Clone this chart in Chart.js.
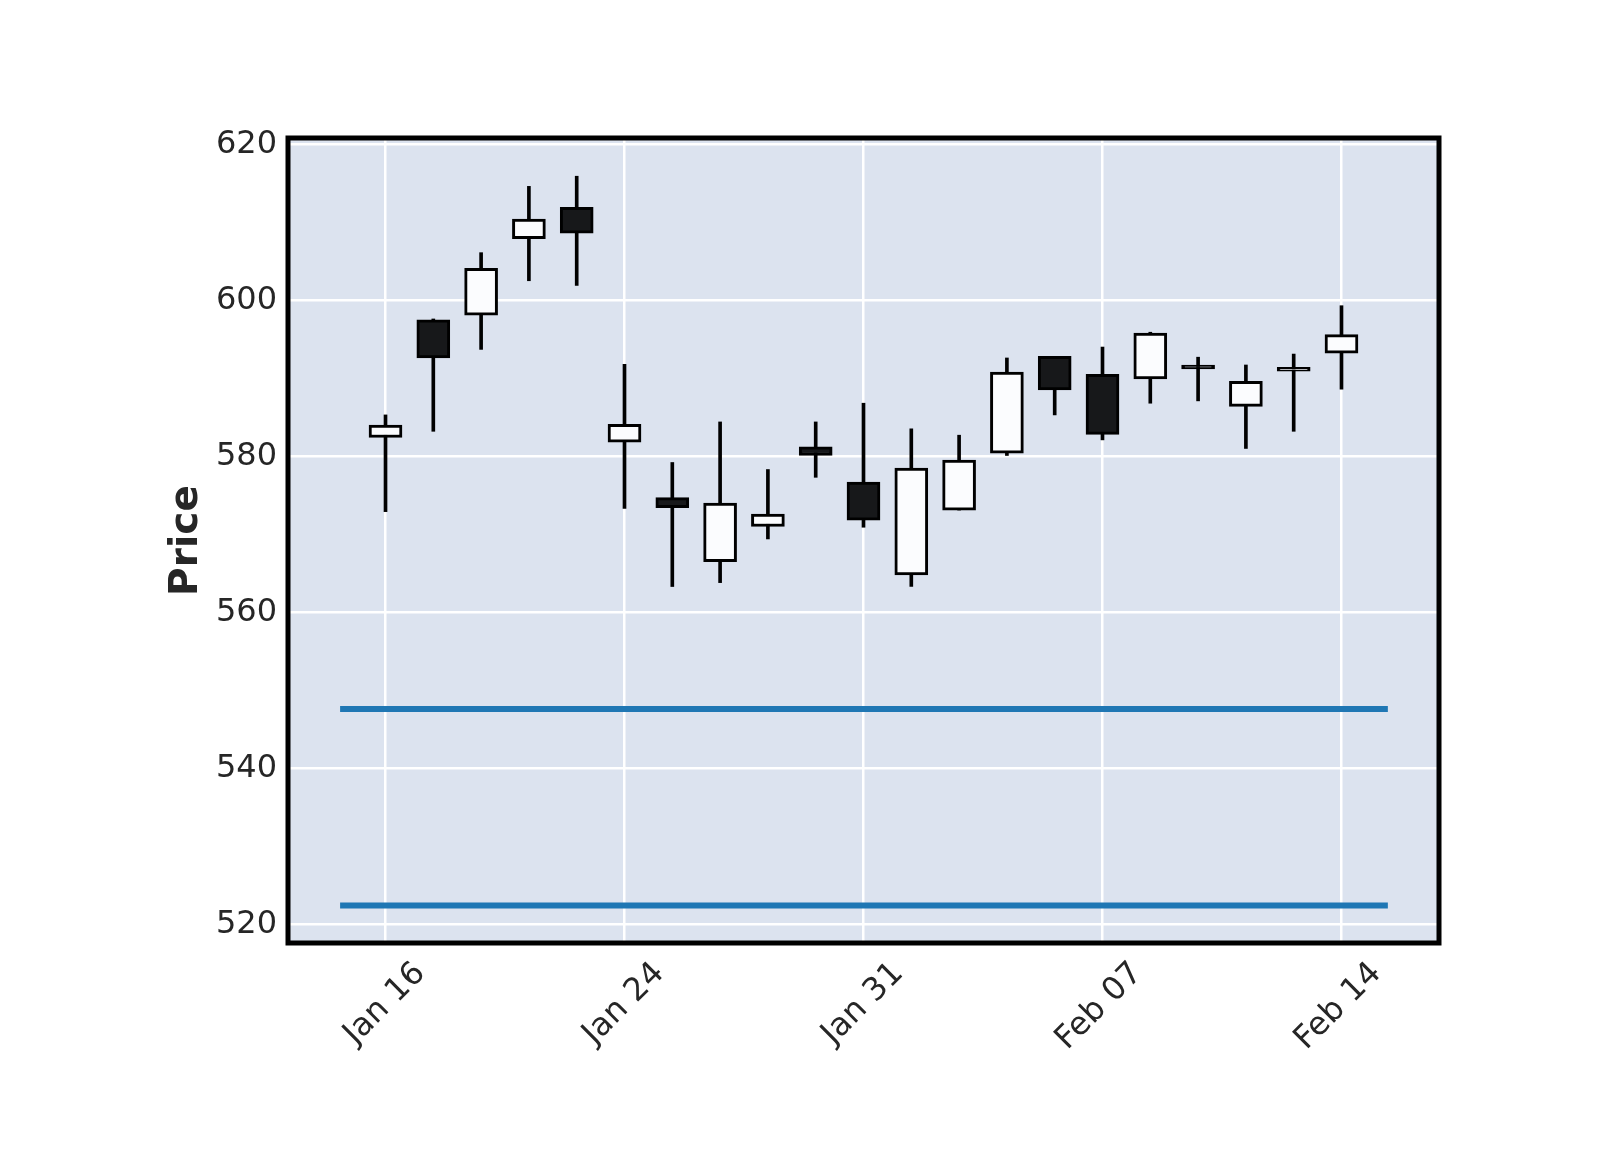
<!DOCTYPE html>
<html lang="en">
<head>
    <meta charset="UTF-8">
    <title>Price</title>
    <script src="https://cdn.jsdelivr.net/npm/chart.js"></script>
    <style>
        body { margin: 0; background: #ffffff; }
        canvas { display: block; }
    </style>
</head>
<body>
    <canvas id="priceChart" width="1600" height="1150"></canvas>
    <script>
        // candle data, one entry per trading day
        const dates = ['Jan 16', 'Jan 17', 'Jan 21', 'Jan 22', 'Jan 23', 'Jan 24', 'Jan 27', 'Jan 28', 'Jan 29', 'Jan 30',
                       'Jan 31', 'Feb 03', 'Feb 04', 'Feb 05', 'Feb 06', 'Feb 07', 'Feb 10', 'Feb 11', 'Feb 12', 'Feb 13', 'Feb 14'];
        const opens  = [582.4, 597.5, 598.1, 607.9, 611.9, 581.8, 574.7, 566.5, 571.0, 581.2,
                        576.7, 564.8, 573.1, 580.4, 592.8, 590.5, 589.9, 591.7, 586.4, 590.9, 593.2];
        const highs  = [585.3, 597.6, 606.1, 614.6, 615.9, 591.8, 579.2, 584.4, 578.3, 584.4,
                        586.8, 583.5, 582.7, 592.6, 592.8, 594.0, 595.9, 592.7, 591.7, 593.1, 599.3];
        const lows   = [572.9, 583.2, 593.7, 602.5, 601.9, 573.3, 563.3, 563.8, 569.4, 577.3,
                        570.9, 563.3, 573.1, 580.1, 585.3, 582.1, 586.8, 587.1, 581.0, 583.2, 588.6];
        const closes = [584.0, 592.6, 604.1, 610.4, 608.6, 584.1, 573.4, 574.0, 572.6, 580.1,
                        571.8, 578.5, 579.5, 590.8, 588.5, 582.8, 595.8, 591.2, 589.6, 591.4, 595.6];
        const hlineValues = [547.6, 522.4];
        const hlineSpan = [-0.95, 20.97];
        const xTickIndexes = [0, 5, 10, 15, 20];
        const yTickValues = [520, 540, 560, 580, 600, 620];

        const upColor = '#fbfcfe';
        const downColor = '#17181a';
        const textColor = '#262626';

        const bodies = opens.map((o, i) => ({ x: i, y: [o, closes[i]] }));
        const wicks = highs.map((h, i) => ({ x: i, y: [lows[i], h] }));
        const bodyColors = opens.map((o, i) => closes[i] >= o ? upColor : downColor);

        const hlineSets = hlineValues.map(v => ({
            type: 'line',
            data: hlineSpan.map(x => ({ x: x, y: v })),
            borderColor: '#1f77b4',
            borderWidth: 6,
            borderCapStyle: 'butt',
            pointRadius: 0,
            order: 0
        }));

        const frame = {
            id: 'frame',
            beforeDraw(chart) {
                const a = chart.chartArea;
                const ctx = chart.ctx;
                ctx.save();
                ctx.fillStyle = '#dce3ef';
                ctx.fillRect(a.left, a.top, a.right - a.left, a.bottom - a.top);
                ctx.restore();
            },
            afterDraw(chart) {
                const a = chart.chartArea;
                const ctx = chart.ctx;
                ctx.save();
                ctx.strokeStyle = '#000000';
                ctx.lineWidth = 5;
                ctx.strokeRect(a.left, a.top, a.right - a.left, a.bottom - a.top);
                ctx.restore();
            }
        };

        const ctx = document.getElementById('priceChart').getContext('2d');
        new Chart(ctx, {
            type: 'bar',
            data: {
                datasets: [
                    ...hlineSets,
                    {
                        data: bodies,
                        backgroundColor: bodyColors,
                        borderColor: '#000000',
                        borderWidth: 3,
                        borderSkipped: false,
                        barThickness: 33,
                        grouped: false,
                        order: 1
                    },
                    {
                        data: wicks,
                        backgroundColor: '#000000',
                        borderWidth: 0,
                        barThickness: 3,
                        grouped: false,
                        order: 2
                    }
                ]
            },
            options: {
                responsive: false,
                devicePixelRatio: 1,
                animation: false,
                layout: { padding: { left: 0, top: 138, right: 161, bottom: 0 } },
                plugins: { legend: { display: false }, tooltip: { enabled: false } },
                scales: {
                    x: {
                        type: 'linear',
                        min: -2.04,
                        max: 22.04,
                        offset: false,
                        afterBuildTicks: s => { s.ticks = xTickIndexes.map(v => ({ value: v })); },
                        afterFit: s => { s.height = 207; },
                        grid: { color: '#ffffff', lineWidth: 2.5, drawTicks: false, offset: false },
                        border: { display: false },
                        ticks: {
                            callback: v => dates[v],
                            minRotation: 45,
                            maxRotation: 45,
                            labelOffset: 35,
                            padding: 12,
                            color: textColor,
                            font: { family: 'DejaVu Sans', size: 32 }
                        }
                    },
                    y: {
                        min: 517.6,
                        max: 620.8,
                        afterBuildTicks: s => { s.ticks = yTickValues.map(v => ({ value: v })); },
                        afterFit: s => { s.width = 288; },
                        grid: { color: '#ffffff', lineWidth: 2.5, drawTicks: false },
                        border: { display: false },
                        ticks: {
                            padding: 11,
                            color: textColor,
                            font: { family: 'DejaVu Sans', size: 32 }
                        },
                        title: {
                            display: true,
                            text: 'Price',
                            color: textColor,
                            padding: { top: 163, bottom: 0 },
                            font: { family: 'DejaVu Sans', size: 39, weight: 'bold' }
                        }
                    }
                }
            },
            plugins: [frame]
        });
    </script>
</body>
</html>
